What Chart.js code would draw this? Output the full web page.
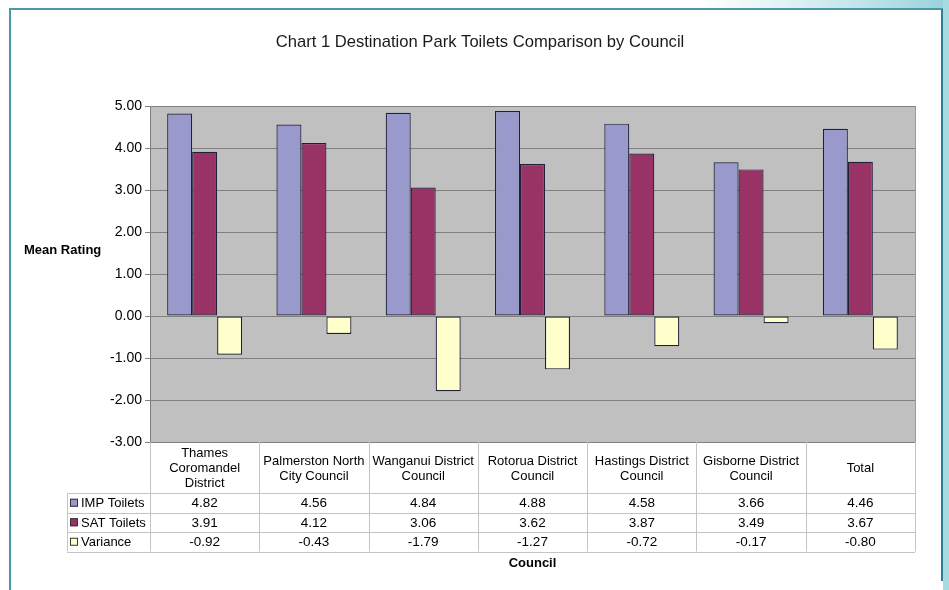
<!DOCTYPE html>
<html>
<head>
<meta charset="utf-8">
<script src="https://cdn.jsdelivr.net/npm/chart.js@4"></script>
<style>
html,body{margin:0;padding:0;background:#fff;}
canvas{display:block;}
</style>
</head>
<body>
<canvas id="c" width="949" height="590"></canvas>
<script>
const chartTitle = "Chart 1 Destination Park Toilets Comparison by Council";
const categories = [
  ["Thames", "Coromandel", "District"],
  ["Palmerston North", "City Council"],
  ["Wanganui District", "Council"],
  ["Rotorua District", "Council"],
  ["Hastings District", "Council"],
  ["Gisborne District", "Council"],
  ["Total"]
];
const seriesNames = ["IMP Toilets", "SAT Toilets", "Variance"];
const impValues = [4.82, 4.56, 4.84, 4.88, 4.58, 3.66, 4.46];
const satValues = [3.91, 4.12, 3.06, 3.62, 3.87, 3.49, 3.67];
const varValues = [-0.92, -0.43, -1.79, -1.27, -0.72, -0.17, -0.80];
const yTicks = [-3, -2, -1, 0, 1, 2, 3, 4, 5];
const yTitle = "Mean Rating";
const xTitle = "Council";
const seriesColors = ["#9999CC", "#993366", "#FFFFCC"];

const FONT = "'Liberation Sans', Arial, sans-serif";

const framePlugin = {
  id: 'frame',
  beforeDraw(chart) {
    const ctx = chart.ctx;
    const W = chart.width, H = chart.height;
    ctx.save();
    ctx.fillStyle = '#ffffff';
    ctx.fillRect(0, 0, W, H);
    let g = ctx.createLinearGradient(700, 0, 949, 0);
    g.addColorStop(0, 'rgba(170,220,226,0)');
    g.addColorStop(1, 'rgba(150,210,218,1)');
    ctx.fillStyle = g;
    ctx.fillRect(700, 0, 249, 8);
    ctx.fillStyle = '#a6dbe1';
    ctx.fillRect(943, 0, 6, H);
    ctx.fillStyle = '#4b98a8';
    ctx.fillRect(9, 8, 934, 2);
    ctx.fillRect(9, 8, 2, H - 8);
    ctx.fillStyle = '#2f7f93';
    ctx.fillRect(941, 9, 2, 572);
    const a = chart.chartArea;
    ctx.fillStyle = '#C0C0C0';
    ctx.fillRect(a.left, a.top, a.right - a.left, a.bottom - a.top);
    ctx.restore();
  },
  afterDraw(chart) {
    const ctx = chart.ctx;
    const a = chart.chartArea;
    const xs = chart.scales.x;
    const n = categories.length;
    const cw = (a.right - a.left) / n;
    const top = a.bottom;
    const headH = 51;
    const rowH = 19.5;
    const legendLeft = 67;
    const series = [impValues, satValues, varValues];
    ctx.save();
    // title
    ctx.fillStyle = '#1a1a1a';
    ctx.font = '16.6px ' + FONT;
    ctx.textAlign = 'center';
    ctx.textBaseline = 'middle';
    ctx.fillText(chartTitle, 480, 42);
    // plot right border
    ctx.strokeStyle = '#9a9a9a';
    ctx.lineWidth = 1;
    ctx.beginPath();
    ctx.moveTo(a.right + 0.5, a.top);
    ctx.lineTo(a.right + 0.5, a.bottom);
    ctx.stroke();
    // table lines
    ctx.strokeStyle = '#c4c4c4';
    ctx.beginPath();
    for (let i = 0; i <= n; i++) {
      const x = Math.round(a.left + i * cw) + 0.5;
      ctx.moveTo(x, top);
      ctx.lineTo(x, top + headH + 3 * rowH);
    }
    for (let r = 0; r <= 3; r++) {
      const y = Math.round(top + headH + r * rowH) + 0.5;
      ctx.moveTo(legendLeft, y);
      ctx.lineTo(a.right, y);
    }
    ctx.moveTo(legendLeft + 0.5, top + headH);
    ctx.lineTo(legendLeft + 0.5, top + headH + 3 * rowH);
    ctx.stroke();
    // header labels
    ctx.fillStyle = '#000';
    ctx.font = '13px ' + FONT;
    ctx.textAlign = 'center';
    const lh = 15;
    categories.forEach((lines, i) => {
      const cx = xs.getPixelForValue(i);
      const cy = top + headH / 2 + 1;
      lines.forEach((t, k) => {
        ctx.fillText(t, cx, cy + (k - (lines.length - 1) / 2) * lh);
      });
    });
    // data rows
    series.forEach((vals, r) => {
      const cy = top + headH + r * rowH + rowH / 2 + 1;
      ctx.font = '13.5px ' + FONT;
      vals.forEach((v, i) => {
        ctx.textAlign = 'center';
        ctx.fillText(v.toFixed(2), xs.getPixelForValue(i), cy);
      });
      ctx.fillStyle = seriesColors[r];
      ctx.fillRect(legendLeft + 3, cy - 5, 8, 8);
      ctx.strokeStyle = '#333';
      ctx.strokeRect(legendLeft + 3.5, cy - 4.5, 7, 7);
      ctx.fillStyle = '#000';
      ctx.textAlign = 'left';
      ctx.font = '13px ' + FONT;
      ctx.fillText(seriesNames[r], legendLeft + 14, cy);
    });
    // axis titles
    ctx.font = 'bold 13px ' + FONT;
    ctx.textAlign = 'left';
    ctx.fillText(yTitle, 24, 250);
    ctx.textAlign = 'center';
    ctx.fillText(xTitle, (a.left + a.right) / 2, 563);
    ctx.restore();
  }
};

new Chart(document.getElementById('c'), {
  type: 'bar',
  data: {
    labels: categories,
    datasets: [impValues, satValues, varValues].map((vals, i) => ({
      label: seriesNames[i],
      data: vals,
      backgroundColor: seriesColors[i],
      borderColor: '#1f1f3a',
      borderWidth: 1.2,
      borderSkipped: false,
      categoryPercentage: 0.686,
      barPercentage: 1.0
    }))
  },
  options: {
    responsive: false,
    animation: false,
    devicePixelRatio: 1,
    layout: { padding: { left: 0, right: 34, top: 106, bottom: 0 } },
    plugins: {
      legend: { display: false },
      tooltip: { enabled: false },
      title: { display: false }
    },
    scales: {
      x: {
        ticks: { display: false },
        grid: { display: false },
        border: { display: false },
        afterFit(s) { s.height = 148; }
      },
      y: {
        min: -3,
        max: 5,
        afterBuildTicks(s) { s.ticks = yTicks.map(v => ({ value: v })); },
        ticks: {
          color: '#000',
          font: { family: FONT, size: 14 },
          padding: 3,
          callback: v => Number(v).toFixed(2)
        },
        grid: { color: '#808080', tickLength: 5, drawTicks: true },
        border: { display: true, color: '#808080' },
        afterFit(s) { s.width = 150; }
      }
    }
  },
  plugins: [framePlugin]
});
</script>
</body>
</html>
